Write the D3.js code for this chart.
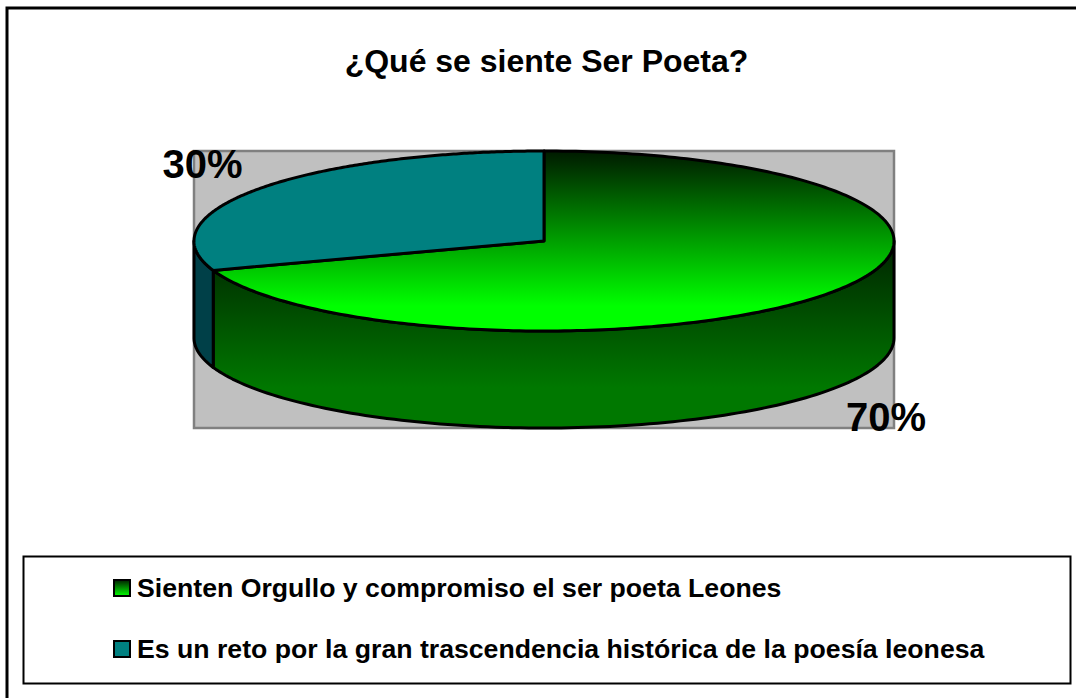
<!DOCTYPE html>
<html>
<head>
<meta charset="utf-8">
<script src="https://cdn.jsdelivr.net/npm/d3@7"></script>
<style>
html, body { margin: 0; padding: 0; background: #fff; }
svg { display: block; }
text { font-family: "Liberation Sans", Arial, sans-serif; font-weight: bold; fill: #000; }
</style>
</head>
<body>
<div id="chart"></div>
<script>
const w = 1076
const h = 698

const title = '¿Qué se siente Ser Poeta?'
const categories = [
    'Sienten Orgullo y compromiso el ser poeta Leones',
    'Es un reto por la gran trascendencia histórica de la poesía leonesa'
]
const values = [69.7, 30.3]
const valueLabels = ['70%', '30%']

// pie layout on the page
const cx = 544
const cy = 241
const rx = 350
const ry = 90
const depth = 97

const svg = d3.select('#chart')
    .append('svg')
    .attr('width', w)
    .attr('height', h)

const defs = svg.append('defs')

function gradient(id, y1, y2, stops) {
    const g = defs.append('linearGradient')
        .attr('id', id)
        .attr('gradientUnits', 'userSpaceOnUse')
        .attr('x1', 0).attr('x2', 0)
        .attr('y1', y1).attr('y2', y2)
    stops.forEach(s => g.append('stop').attr('offset', s[0]).attr('stop-color', s[1]))
}

gradient('topGreen', cy - ry, cy + 65, [[0, '#001a00'], [1, '#00ff00']])
gradient('sideGreen', cy, cy + ry + depth - 40, [[0, '#002400'], [1, '#007800']])
gradient('legendGreen', 580, 596, [[0, '#002000'], [1, '#00ff00']])

const topFills = ['url(#topGreen)', '#008080']
const sideFills = ['url(#sideGreen)', '#004048']
const legendFills = ['url(#legendGreen)', '#008080']

// outer frame, the right and bottom sides fall outside the picture
svg.append('path')
    .attr('d', `M7,${h + 5}V8H${w + 5}`)
    .attr('fill', 'none')
    .attr('stroke', '#000')
    .attr('stroke-width', 3)

svg.append('text')
    .attr('x', 546.5)
    .attr('y', 72)
    .attr('text-anchor', 'middle')
    .attr('font-size', 32)
    .text(title)

// back wall
svg.append('rect')
    .attr('x', cx - rx)
    .attr('y', cy - ry)
    .attr('width', rx * 2)
    .attr('height', ry * 2 + depth)
    .attr('fill', '#c0c0c0')
    .attr('stroke', '#808080')
    .attr('stroke-width', 2.5)

const slices = d3.pie().sort(null)(values)

const px = a => cx + rx * Math.sin(a)
const py = a => cy - ry * Math.cos(a)

const outline = d3.line()

// side of the cylinder, only the part facing the viewer
slices.forEach((s, i) => {
    const a0 = Math.max(s.startAngle, Math.PI / 2)
    const a1 = Math.min(s.endAngle, Math.PI * 1.5)
    if (a1 <= a0) return
    const steps = d3.range(0, 121).map(k => a0 + (a1 - a0) * k / 120)
    const pts = steps.map(a => [px(a), py(a)])
        .concat(steps.slice().reverse().map(a => [px(a), py(a) + depth]))
    svg.append('path')
        .attr('d', outline(pts) + 'Z')
        .attr('fill', sideFills[i])
        .attr('stroke', '#000')
        .attr('stroke-width', 3)
        .attr('stroke-linejoin', 'round')
})

// top of the pie
slices.forEach((s, i) => {
    const steps = d3.range(0, 241).map(k => s.startAngle + (s.endAngle - s.startAngle) * k / 240)
    const pts = [[cx, cy]].concat(steps.map(a => [px(a), py(a)]))
    svg.append('path')
        .attr('d', outline(pts) + 'Z')
        .attr('fill', topFills[i])
        .attr('stroke', '#000')
        .attr('stroke-width', 3)
        .attr('stroke-linejoin', 'round')
})

svg.append('text')
    .attr('x', 886)
    .attr('y', 431)
    .attr('text-anchor', 'middle')
    .attr('font-size', 40)
    .text(valueLabels[0])

svg.append('text')
    .attr('x', 202.5)
    .attr('y', 178)
    .attr('text-anchor', 'middle')
    .attr('font-size', 40)
    .text(valueLabels[1])

// legend
svg.append('rect')
    .attr('x', 23.5)
    .attr('y', 556.5)
    .attr('width', 1047)
    .attr('height', 127)
    .attr('fill', '#fff')
    .attr('stroke', '#000')
    .attr('stroke-width', 2)

const legendY = d3.scalePoint().domain(categories).range([588, 649])

const legend = svg.selectAll('g.legend-item')
    .data(categories)
    .enter()
    .append('g')
    .attr('class', 'legend-item')

legend.append('rect')
    .attr('x', 114)
    .attr('y', d => legendY(d) - 8)
    .attr('width', 16)
    .attr('height', 16)
    .attr('fill', (d, i) => legendFills[i])
    .attr('stroke', '#000')
    .attr('stroke-width', 2)

legend.append('text')
    .attr('x', 137)
    .attr('y', d => legendY(d) + 9)
    .attr('font-size', 26.67)
    .text(d => d)
</script>
</body>
</html>
